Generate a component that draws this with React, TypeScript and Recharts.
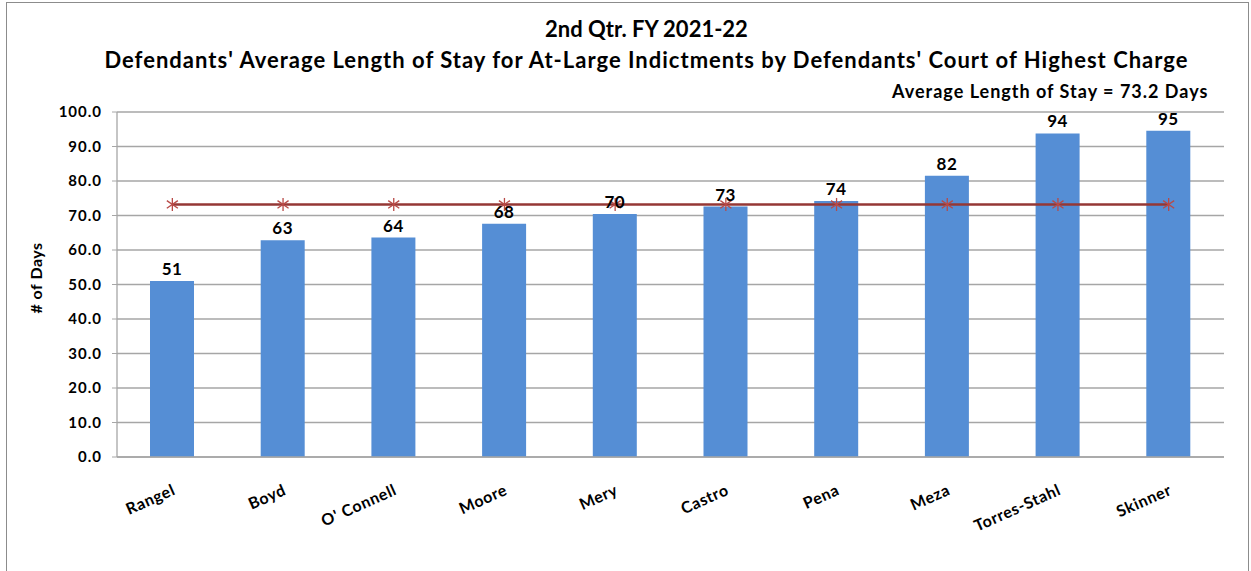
import React from "react";
import {
  ComposedChart,
  Bar,
  Line,
  XAxis,
  YAxis,
  CartesianGrid,
  LabelList,
} from "recharts";

const judges = [
  "Rangel",
  "Boyd",
  "O' Connell",
  "Moore",
  "Mery",
  "Castro",
  "Pena",
  "Meza",
  "Torres-Stahl",
  "Skinner",
];
const avgStay = [51.0, 62.8, 63.6, 67.6, 70.4, 72.6, 74.2, 81.5, 93.8, 94.6];
const overallAvg = [73.2, 73.2, 73.2, 73.2, 73.2, 73.2, 73.2, 73.2, 73.2, 73.2];
const yTicks = [0, 10, 20, 30, 40, 50, 60, 70, 80, 90, 100];
const edgeTicks = [0, 1, 2, 3, 4, 5, 6, 7, 8, 9, 10];

const data = judges.map((name, i) => ({
  name,
  stay: avgStay[i],
  avg: overallAvg[i],
}));

const FONT = "Lato, 'Open Sans', sans-serif";

function StarDot(props: any) {
  const { cx, cy } = props;
  if (cx == null || cy == null) return null;
  const r = 6.5;
  const d = r * 0.85;
  return (
    <g stroke="#b84a47" strokeWidth={1.3}>
      <line x1={cx} y1={cy - r} x2={cx} y2={cy + r} />
      <line x1={cx - d} y1={cy - d * 0.7} x2={cx + d} y2={cy + d * 0.7} />
      <line x1={cx - d} y1={cy + d * 0.7} x2={cx + d} y2={cy - d * 0.7} />
    </g>
  );
}

function NameTick(props: any) {
  const { x, y, payload } = props;
  const ax = x + 4;
  const ay = y + 29;
  return (
    <text
      x={ax}
      y={ay}
      textAnchor="end"
      transform={`rotate(-24, ${ax}, ${ay})`}
      fontFamily={FONT}
      fontWeight={700}
      fontSize={16}
      letterSpacing={0.6}
      fill="#000"
    >
      {payload.value}
    </text>
  );
}

export default function App() {
  return (
    <div
      style={{
        position: "relative",
        width: 1251,
        height: 571,
        overflow: "hidden",
        background: "#fff",
        fontFamily: FONT,
      }}
    >
      <style>{`body{margin:0}`}</style>
      <div
        style={{
          position: "absolute",
          left: 6,
          top: 2,
          width: 1241,
          height: 620,
          border: "1px solid #8c8c8c",
        }}
      />
      <div
        style={{
          position: "absolute",
          left: 0,
          width: 1251,
          top: 13,
          textAlign: "center",
          fontWeight: 700,
          fontSize: 22,
          lineHeight: "31px",
          color: "#000",
          paddingLeft: 42,
          boxSizing: "border-box",
        }}
      >
        <div>2nd Qtr. FY 2021-22</div>
        <div style={{ letterSpacing: 1, whiteSpace: "nowrap" }}>
          Defendants' Average Length of Stay for At-Large Indictments by
          Defendants' Court of Highest Charge
        </div>
      </div>
      <div
        style={{
          position: "absolute",
          left: 892,
          top: 81,
          fontWeight: 700,
          fontSize: 18,
          lineHeight: "20px",
          letterSpacing: 1,
          color: "#000",
          whiteSpace: "nowrap",
        }}
      >
        Average Length of Stay = 73.2 Days
      </div>
      <div
        style={{
          position: "absolute",
          left: 35,
          top: 278,
          transform: "translate(-50%, -50%) rotate(-90deg)",
          fontWeight: 700,
          fontSize: 16,
          letterSpacing: 0.5,
          whiteSpace: "nowrap",
          color: "#000",
        }}
      >
        # of Days
      </div>
      <div style={{ position: "absolute", left: 0, top: 0 }}>
        <ComposedChart
          width={1251}
          height={571}
          data={data}
          margin={{ top: 112, right: 27, bottom: 54, left: 17 }}
          barCategoryGap="30%"
        >
          <CartesianGrid vertical={false} stroke="#a6a6a6" strokeWidth={1.3} />
          <XAxis
            xAxisId="edges"
            type="number"
            domain={[0, 10]}
            ticks={edgeTicks}
            height={0}
            axisLine={false}
            tickLine={{ stroke: "#a6a6a6" }}
            tickSize={6}
            tick={() => <g />}
          />
          <XAxis
            dataKey="name"
            height={60}
            interval={0}
            tickLine={false}
            axisLine={{ stroke: "#a6a6a6", strokeWidth: 1.3 }}
            tick={<NameTick />}
          />
          <YAxis
            width={100}
            domain={[0, 100]}
            ticks={yTicks}
            interval={0}
            tickFormatter={(v: number) => v.toFixed(1)}
            axisLine={{ stroke: "#a6a6a6", strokeWidth: 1.3 }}
            tickLine={{ stroke: "#a6a6a6" }}
            tickSize={5}
            tickMargin={10}
            tick={{
              fill: "#000",
              fontFamily: FONT,
              fontWeight: 700,
              fontSize: 15,
              letterSpacing: 1,
            }}
          />
          <Bar dataKey="stay" fill="#558ed5" barSize={44} isAnimationActive={false}>
            <LabelList
              dataKey="stay"
              position="top"
              offset={6}
              formatter={(v: any) => Math.round(Number(v))}
              style={{
                fill: "#000",
                fontFamily: FONT,
                fontWeight: 700,
                fontSize: 17,
                letterSpacing: 0.5,
              }}
            />
          </Bar>
          <Line
            dataKey="avg"
            stroke="#953735"
            strokeWidth={2.5}
            dot={<StarDot />}
            activeDot={false}
            isAnimationActive={false}
          />
        </ComposedChart>
      </div>
    </div>
  );
}
